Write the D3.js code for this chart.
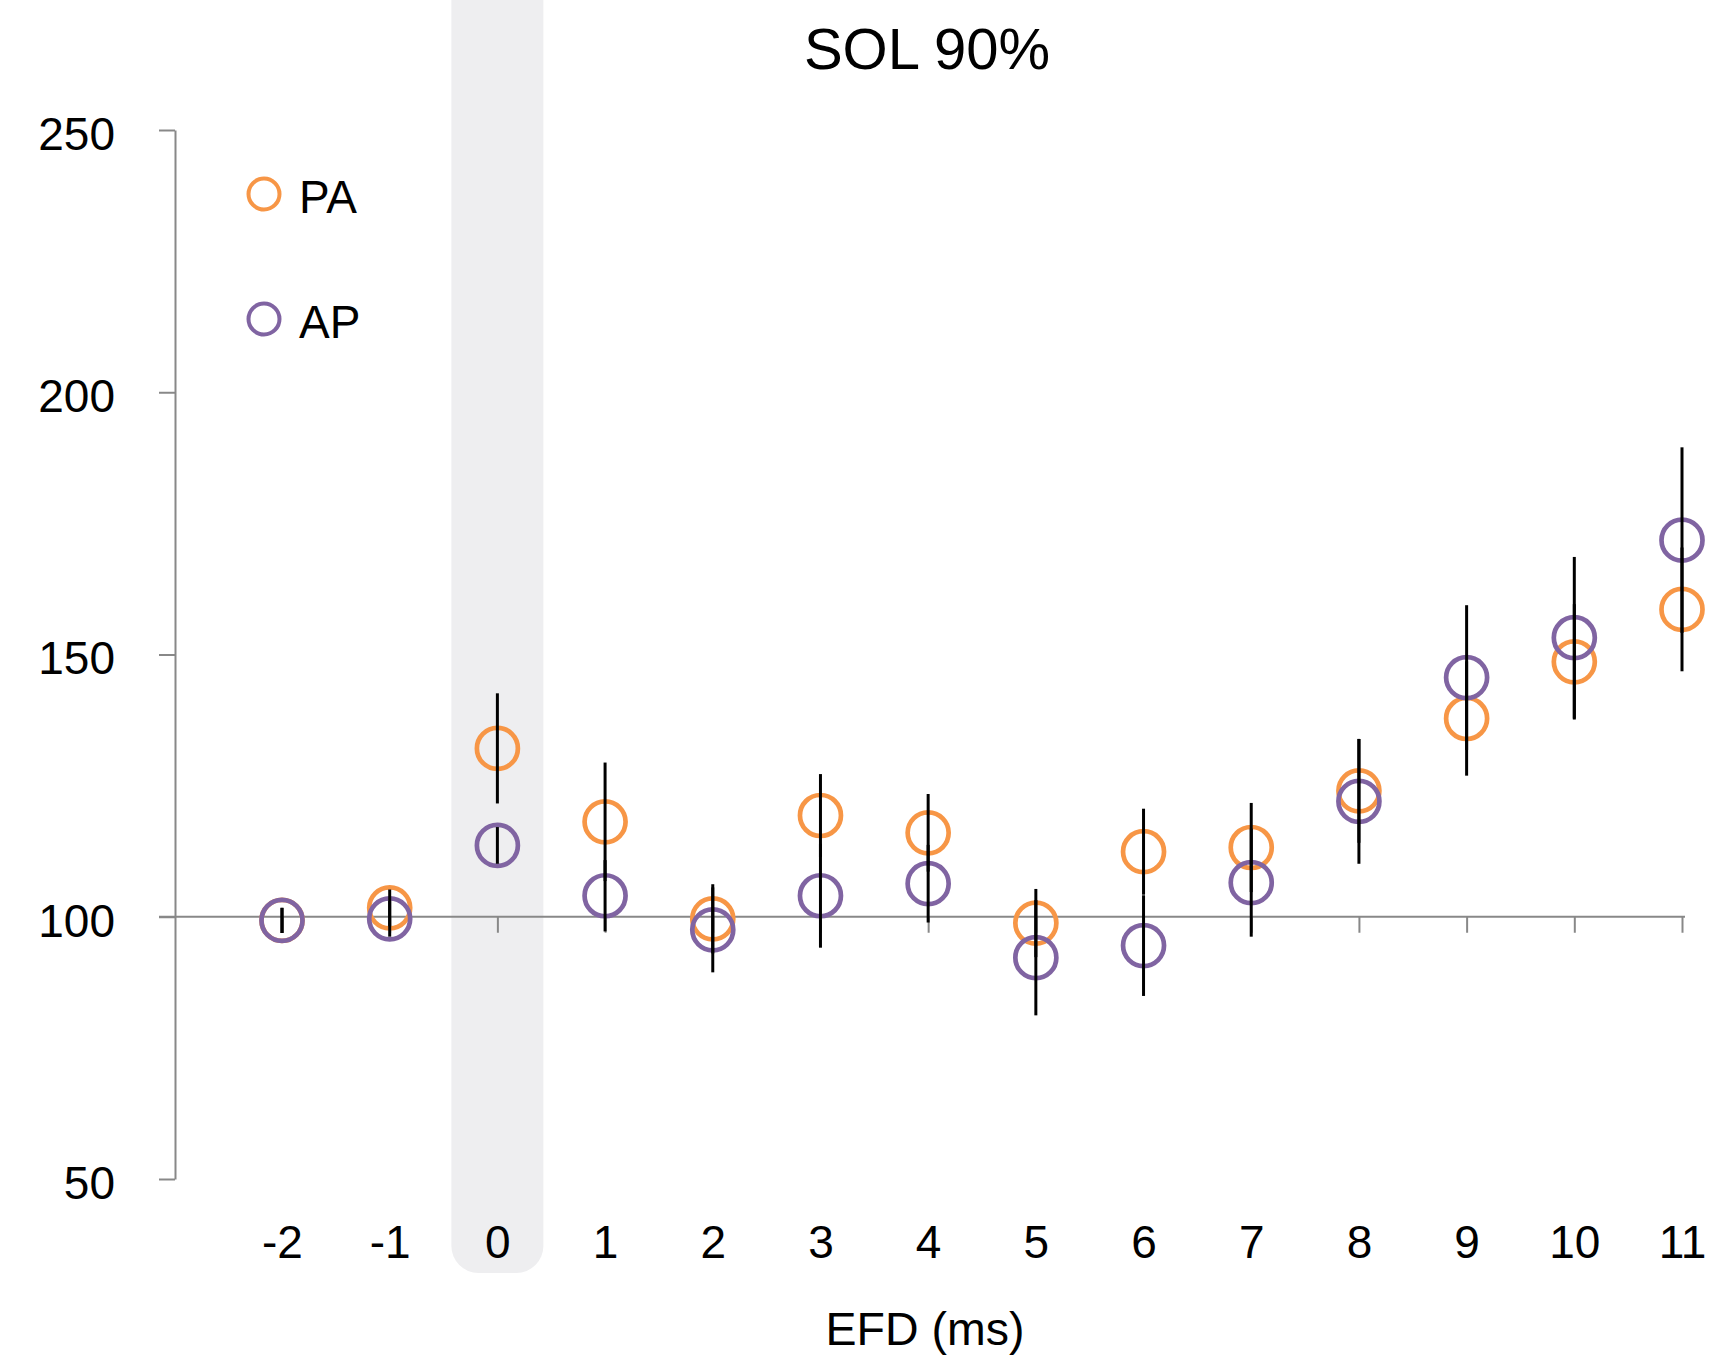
<!DOCTYPE html>
<html>
<head>
<meta charset="utf-8">
<script src="https://cdn.jsdelivr.net/npm/d3@7"></script>
<style>
  body { margin: 0; background: #fff; }
  text { font-family: "Liberation Sans", Arial, Helvetica, sans-serif; fill: #000; }
</style>
</head>
<body>
<svg id="chart" width="1716" height="1361"></svg>
<script>
// data
var efd = [-2, -1, 0, 1, 2, 3, 4, 5, 6, 7, 8, 9, 10, 11];
var paMean = [99.3, 101.7, 132.1, 118.1, 99.6, 119.3, 116.0, 98.8, 112.4, 113.2, 124.0, 137.8, 148.6, 158.6];
var paErr  = [2.4, 3.5, 10.5, 11.3, 6.6, 7.9, 7.4, 6.5, 8.2, 8.5, 9.9, 10.9, 11.0, 11.8];
var apMean = [99.3, 99.6, 113.6, 104.0, 97.5, 104.0, 106.3, 92.2, 94.5, 106.5, 122.0, 145.6, 153.2, 171.8];
var apErr  = [2.4, 3.4, 3.5, 6.8, 8.1, 9.9, 7.4, 11.0, 9.6, 10.3, 11.9, 13.8, 15.4, 17.7];
var yTicks = [50, 100, 150, 200, 250];
var seriesNames = ["PA", "AP"];
var seriesColors = ["#f79646", "#8064a2"];

var svg = d3.select("#chart");

var x = d3.scaleLinear().domain([-2, 11]).range([282, 1682]);
var y = d3.scaleLinear().domain([50, 250]).range([1179, 130]);

// highlighted column at EFD 0
var bw = 92, bx = x(0) - bw / 2, bBottom = 1273, br = 27;
svg.append("path")
  .attr("d", "M" + bx + ",0" +
             "H" + (bx + bw) +
             "V" + (bBottom - br) +
             "A" + br + "," + br + " 0 0 1 " + (bx + bw - br) + "," + bBottom +
             "H" + (bx + br) +
             "A" + br + "," + br + " 0 0 1 " + bx + "," + (bBottom - br) + "Z")
  .attr("fill", "#eeeef0");

// y axis
var yAxis = svg.append("g")
  .attr("transform", "translate(175,0)")
  .call(d3.axisLeft(y).tickValues(yTicks).tickSize(16).tickSizeOuter(0).tickPadding(44));
yAxis.select(".domain").attr("stroke", "#888").attr("stroke-width", 2);
yAxis.selectAll(".tick line").attr("stroke", "#888").attr("stroke-width", 2);
yAxis.selectAll(".tick text")
  .attr("font-size", 46)
  .attr("font-family", "Liberation Sans, Arial, sans-serif")
  .attr("fill", "#000")
  .attr("dy", "0.42em");

// horizontal axis line at 100 with ticks
var xAxis = svg.append("g")
  .attr("transform", "translate(0," + y(100) + ")")
  .call(d3.axisBottom(x).tickValues(efd).tickSize(16).tickSizeOuter(0).tickFormat(""));
xAxis.select(".domain").attr("d", "M159,0H1685").attr("stroke", "#888").attr("stroke-width", 2);
xAxis.selectAll(".tick line").attr("stroke", "#888").attr("stroke-width", 2);

// x tick labels near the bottom
var xLabels = svg.append("g")
  .attr("transform", "translate(0,1225)")
  .call(d3.axisBottom(x).tickValues(efd).tickSize(0).tickPadding(0).tickFormat(d3.format("d")));
xLabels.select(".domain").remove();
xLabels.selectAll(".tick text")
  .attr("font-size", 46)
  .attr("font-family", "Liberation Sans, Arial, sans-serif")
  .attr("fill", "#000")
  .attr("dy", "0.72em")
  .text(function(d) { return d < 0 ? "-" + Math.abs(d) : d; });

// circles, orange first then purple
var series = [
  { name: "PA", mean: paMean, err: paErr, color: seriesColors[0] },
  { name: "AP", mean: apMean, err: apErr, color: seriesColors[1] }
];

series.forEach(function(s) {
  svg.append("g").selectAll("circle")
    .data(efd)
    .enter().append("circle")
    .attr("cx", function(d) { return x(d); })
    .attr("cy", function(d, i) { return y(s.mean[i]); })
    .attr("r", 20.5)
    .attr("fill", "none")
    .attr("stroke", s.color)
    .attr("stroke-width", 4.7);
});

// error bars on top
series.forEach(function(s) {
  svg.append("g").selectAll("line")
    .data(efd)
    .enter().append("line")
    .attr("x1", function(d) { return x(d); })
    .attr("x2", function(d) { return x(d); })
    .attr("y1", function(d, i) { return y(s.mean[i] + s.err[i]); })
    .attr("y2", function(d, i) { return y(s.mean[i] - s.err[i]); })
    .attr("stroke", "#000")
    .attr("stroke-width", 3);
});

// legend
var legend = svg.append("g");
seriesNames.forEach(function(name, i) {
  var ly = 194 + i * 125;
  legend.append("circle")
    .attr("cx", 264)
    .attr("cy", ly)
    .attr("r", 15.5)
    .attr("fill", "none")
    .attr("stroke", seriesColors[i])
    .attr("stroke-width", 4);
  legend.append("text")
    .attr("x", 299)
    .attr("y", ly + 19)
    .attr("font-size", 46)
    .text(name);
});

// title
svg.append("text")
  .attr("x", 927)
  .attr("y", 69)
  .attr("text-anchor", "middle")
  .attr("font-size", 58)
  .text("SOL 90%");

// axis title
svg.append("text")
  .attr("x", 925)
  .attr("y", 1345)
  .attr("text-anchor", "middle")
  .attr("font-size", 46.5)
  .text("EFD (ms)");
</script>
</body>
</html>
